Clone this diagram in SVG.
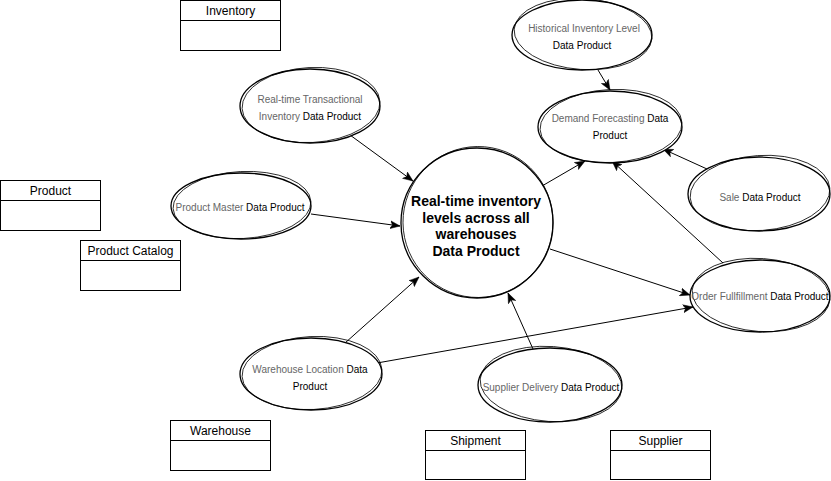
<svg xmlns="http://www.w3.org/2000/svg" width="831" height="481" viewBox="0 0 831 481">
<style>
  text { font-family: "Liberation Sans", Arial, Helvetica, sans-serif; }
  .box { fill: #ffffff; stroke: #000000; stroke-width: 1; }
  .hdr { stroke: #000000; stroke-width: 1; }
  .bt { font-size: 12px; fill: #000000; text-anchor: middle; }
  .sk1 { fill: #ffffff; stroke: #000000; stroke-width: 1.3; }
  .sk2 { fill: none; stroke: #000000; stroke-width: 0.8; }
  .et { font-size: 10px; fill: #000000; text-anchor: middle; }
  .g { fill: #666666; }
  .ct { font-size: 14px; font-weight: bold; fill: #000000; text-anchor: middle; }
  .cn { fill: none; stroke: #000000; stroke-width: 1; marker-end: url(#arr); }
</style>
<defs>
  <marker id="arr" markerUnits="userSpaceOnUse" markerWidth="11" markerHeight="9" refX="10" refY="4.5" orient="auto">
    <path d="M0,0.5 L10,4.5 L0,8.5 L2.5,4.5 Z" fill="#000000" stroke="#000000" stroke-width="0.5"/>
  </marker>
</defs>
<rect width="831" height="481" fill="#ffffff"/>

<g id="connectors">
  <line class="cn" x1="350" y1="135" x2="413" y2="181"/>
  <line class="cn" x1="311" y1="214" x2="400" y2="226"/>
  <line class="cn" x1="345" y1="343" x2="419" y2="277"/>
  <line class="cn" x1="377" y1="363" x2="693" y2="307"/>
  <line class="cn" x1="533" y1="349" x2="508" y2="293"/>
  <line class="cn" x1="542" y1="186" x2="585" y2="161"/>
  <line class="cn" x1="550" y1="249" x2="690" y2="295"/>
  <line class="cn" x1="598" y1="70" x2="610" y2="90"/>
  <line class="cn" x1="707" y1="169" x2="663" y2="149"/>
  <line class="cn" x1="723" y1="263" x2="612" y2="161"/>
</g>

<g id="box-inventory">
  <rect class="box" x="180.5" y="0.5" width="100" height="50"/>
  <line class="hdr" x1="180.5" y1="20.5" x2="280.5" y2="20.5"/>
  <text class="bt" x="230.5" y="15">Inventory</text>
</g>
<g id="box-product">
  <rect class="box" x="0.5" y="180.5" width="100" height="50"/>
  <line class="hdr" x1="0.5" y1="200.5" x2="100.5" y2="200.5"/>
  <text class="bt" x="50.5" y="195">Product</text>
</g>
<g id="box-product-catalog">
  <rect class="box" x="80.5" y="240.5" width="100" height="50"/>
  <line class="hdr" x1="80.5" y1="260.5" x2="180.5" y2="260.5"/>
  <text class="bt" x="130.5" y="255">Product Catalog</text>
</g>
<g id="box-warehouse">
  <rect class="box" x="170.5" y="420.5" width="100" height="50"/>
  <line class="hdr" x1="170.5" y1="440.5" x2="270.5" y2="440.5"/>
  <text class="bt" x="220.5" y="435">Warehouse</text>
</g>
<g id="box-shipment">
  <rect class="box" x="425.5" y="430.5" width="100" height="49"/>
  <line class="hdr" x1="425.5" y1="450.5" x2="525.5" y2="450.5"/>
  <text class="bt" x="475.5" y="445">Shipment</text>
</g>
<g id="box-supplier">
  <rect class="box" x="610.5" y="430.5" width="100" height="49"/>
  <line class="hdr" x1="610.5" y1="450.5" x2="710.5" y2="450.5"/>
  <text class="bt" x="660.5" y="445">Supplier</text>
</g>

<g id="node-rt-transactional">
  <ellipse class="sk1" cx="310" cy="106" rx="70" ry="37"/>
  <ellipse class="sk2" cx="311" cy="105" rx="69" ry="37.5" transform="rotate(-3 311 105)"/>
  <text class="et" x="310" y="102.5"><tspan class="g">Real-time Transactional</tspan></text>
  <text class="et" x="310" y="119.5"><tspan class="g">Inventory</tspan> Data Product</text>
</g>

<g id="node-historical">
  <ellipse class="sk1" cx="582" cy="35" rx="70" ry="35"/>
  <ellipse class="sk2" cx="583" cy="34" rx="69" ry="35.5" transform="rotate(4 583 34)"/>
  <text class="et" x="584" y="31.5"><tspan class="g">Historical Inventory Level</tspan></text>
  <text class="et" x="582" y="48.5">Data Product</text>
</g>

<g id="node-demand">
  <ellipse class="sk1" cx="610" cy="127" rx="72" ry="36"/>
  <ellipse class="sk2" cx="611" cy="126" rx="71" ry="36.5" transform="rotate(-3 611 126)"/>
  <text class="et" x="610" y="121.5"><tspan class="g">Demand Forecasting</tspan> Data</text>
  <text class="et" x="610" y="138.5">Product</text>
</g>

<g id="node-center">
  <ellipse class="sk1" cx="477" cy="223" rx="76" ry="75"/>
  <ellipse class="sk2" cx="478" cy="222" rx="75" ry="75.5" transform="rotate(5 478 222)"/>
  <text class="ct" x="476" y="206">Real-time inventory</text>
  <text class="ct" x="476" y="222.5">levels across all</text>
  <text class="ct" x="476" y="239">warehouses</text>
  <text class="ct" x="476" y="255.5">Data Product</text>
</g>

<g id="node-product-master">
  <ellipse class="sk1" cx="241" cy="206" rx="70" ry="33"/>
  <ellipse class="sk2" cx="242" cy="205" rx="69" ry="33.5" transform="rotate(-3 242 205)"/>
  <text class="et" x="240" y="210.5"><tspan class="g">Product Master</tspan> Data Product</text>
</g>

<g id="node-sale">
  <ellipse class="sk1" cx="759" cy="194" rx="71" ry="37"/>
  <ellipse class="sk2" cx="760" cy="193" rx="70" ry="37.5" transform="rotate(-4 760 193)"/>
  <text class="et" x="760" y="200.5"><tspan class="g">Sale</tspan> Data Product</text>
</g>

<g id="node-order">
  <ellipse class="sk1" cx="760" cy="296" rx="70" ry="36"/>
  <ellipse class="sk2" cx="761" cy="295" rx="69" ry="36.5" transform="rotate(4 761 295)"/>
  <text class="et" x="760" y="299.5"><tspan class="g">Order Fullfillment</tspan> Data Product</text>
</g>

<g id="node-warehouse-location">
  <ellipse class="sk1" cx="311" cy="374" rx="71" ry="36"/>
  <ellipse class="sk2" cx="312" cy="373" rx="70" ry="36.5" transform="rotate(-3 312 373)"/>
  <text class="et" x="310" y="372.5"><tspan class="g">Warehouse Location</tspan> Data</text>
  <text class="et" x="310" y="389.5">Product</text>
</g>

<g id="node-supplier-delivery">
  <ellipse class="sk1" cx="550" cy="385" rx="72" ry="37"/>
  <ellipse class="sk2" cx="551" cy="384" rx="71" ry="37.5" transform="rotate(4 551 384)"/>
  <text class="et" x="551" y="390.5"><tspan class="g">Supplier Delivery</tspan> Data Product</text>
</g>
</svg>
